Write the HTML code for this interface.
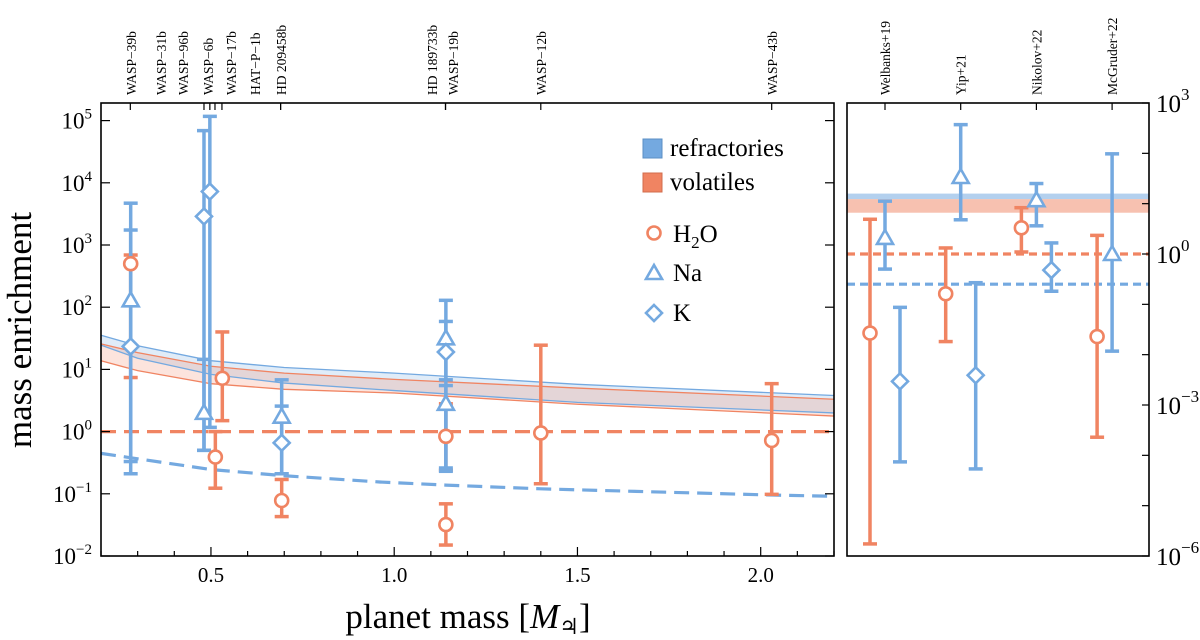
<!DOCTYPE html>
<html><head><meta charset="utf-8"><style>
html,body{margin:0;padding:0;background:#fff;}
svg{display:block;font-family:"Liberation Serif",serif;}
</style></head><body>
<svg id="chart" width="1200" height="640" viewBox="0 0 1200 640" xmlns="http://www.w3.org/2000/svg">
<g id="main"></g>
<g id="side"></g>
</svg>
<script>
// ---------- main panel data (values are enrichment, linear) ----------
const planetNames = ["WASP\u221239b","WASP\u221231b","WASP\u221296b","WASP\u22126b","WASP\u221217b","HAT\u2212P\u22121b","HD 209458b","HD 189733b","WASP\u221219b","WASP\u221212b","WASP\u221243b"];
const planetMasses = [0.28,0.481,0.497,0.511,0.53,0.69,0.69,1.14,1.14,1.40,2.03];
const planetLabelX = [131,161,183,208,231,255,281,432,453,541,772];
const planetLabelMass = [0.28,0.481,0.497,0.511,0.53,0.69,0.69,1.14,1.14,1.40,2.03];

const h2oMass = [0.281,0.512,0.531,0.693,1.141,1.141,1.40,2.03];
const h2oVal  = [500,0.39,7.2,0.078,0.84,0.032,0.95,0.72];
const h2oLo   = [7.4,0.123,1.5,0.043,0.24,0.015,0.145,0.098];
const h2oHi   = [690,1.0,40,0.17,2.8,0.069,24.5,5.9];

const naMass = [0.281,0.481,0.693,1.141,1.141];
const naVal  = [129,2.0,1.74,31.6,2.8];
const naLo   = [0.33,0.5,0.21,6.8,0.23];
const naHi   = [1740,14.5,6.8,129,5.5];

const kMass = [0.281,0.481,0.497,0.693,1.141];
const kVal  = [23.4,2880,7240,0.66,19];
const kLo   = [0.21,0.5,1.17,0.21,0.26];
const kHi   = [4700,69000,117000,2.57,59];

const bandMass = [0.2,0.3,0.5,0.7,1.0,1.5,2.2];
const refTopLog = [1.55,1.38,1.14,1.03,0.94,0.76,0.58];
const refBotLog = [1.39,1.18,0.92,0.78,0.66,0.47,0.30];
const volTopLog = [1.41,1.27,1.05,0.94,0.84,0.70,0.52];
const volBotLog = [1.14,0.98,0.77,0.68,0.62,0.44,0.25];
const refDashMass = [0.2,0.5,0.7,0.96,1.14,1.4,2.03,2.2];
const refDashLog  = [-0.35,-0.61,-0.71,-0.81,-0.86,-0.92,-1.02,-1.04];
const volDashLog = 0;

const xTicks = [0.5,1.0,1.5,2.0];
const xTickLabels = ["0.5","1.0","1.5","2.0"];
const yTicksMain = [-2,-1,0,1,2,3,4,5];

// ---------- literature panel data (log10 enrichment) ----------
const sources = ["Welbanks+19","Yip+21","Nikolov+22","McGruder+22"];
const litH2oC = [-1.57,-0.79,0.52,-1.64];
const litH2oLo = [-5.76,-1.74,0.04,-3.64];
const litH2oHi = [0.69,0.12,0.92,0.37];
const litNaC = [0.32,1.53,1.07,0.0];
const litNaLo = [-0.30,0.68,0.56,-1.93];
const litNaHi = [1.05,2.57,1.40,1.99];
const litKSrc = [0,1,2];
const litKC = [-2.53,-2.41,-0.32];
const litKLo = [-4.13,-4.27,-0.74];
const litKHi = [-1.06,-0.57,0.22];
const litRefBand = [1.09,1.20];
const litVolBand = [0.82,1.09];
const litVolLine = 0;
const litRefLine = -0.60;
const yTicksSide = [-6,-3,0,3];

const BLUE="#74a9e0", ORANGE="#f08462";
const NS="http://www.w3.org/2000/svg";
function mk(parent,tag,attrs,text){const e=document.createElementNS(NS,tag);for(const k in attrs)e.setAttribute(k,attrs[k]);if(text!==undefined)e.textContent=text;parent.appendChild(e);return e;}

// axes
const L=101,R=834,T=103,B=556;
const xS=m=>L+(m-0.2)/(2.2-0.2)*(R-L);
const yS=lg=>B-(lg+2)*62.2;
const yV=v=>yS(Math.log10(v));
const SL=847,SR=1149;
const sxS=i=>885+i*75.7;
const syS=lg=>T+(3-lg)*(B-T)/9;

const main=document.getElementById('main');
const side=document.getElementById('side');

// bands
function bandPath(top,bot){let d="";bandMass.forEach((m,i)=>{d+=(i?"L":"M")+xS(m)+","+yS(top[i]);});for(let i=bandMass.length-1;i>=0;i--)d+="L"+xS(bandMass[i])+","+yS(bot[i]);return d+"Z";}
function linePath(ms,ls){return ms.map((m,i)=>(i?"L":"M")+xS(m)+","+yS(ls[i])).join("");}
let e;
e=mk(main,'path',{d:bandPath(refTopLog,refBotLog),fill:BLUE,'fill-opacity':0.22,stroke:'none'});

e=mk(main,'path',{d:bandPath(volTopLog,volBotLog),fill:ORANGE,'fill-opacity':0.22,stroke:'none'});

[[refTopLog,BLUE],[refBotLog,BLUE],[volTopLog,ORANGE],[volBotLog,ORANGE]].forEach(([a,c])=>{
 e=mk(main,'path',{d:linePath(bandMass,a),fill:'none',stroke:c,'stroke-width':1.3});
 
});
e=mk(main,'line',{x1:L,x2:R,y1:yS(volDashLog),y2:yS(volDashLog),stroke:ORANGE,'stroke-width':3.2,'stroke-dasharray':'15,8'});

e=mk(main,'path',{d:linePath(refDashMass,refDashLog),fill:'none',stroke:BLUE,'stroke-width':3.2,'stroke-dasharray':'15,8'});


function errbar(g,x,y1,y2,c,name){
 e=mk(g,'line',{x1:x,x2:x,y1:y1,y2:y2,stroke:c,'stroke-width':3.5});
 
 [y1,y2].forEach(y=>{e=mk(g,'line',{x1:x-7,x2:x+7,y1:y,y2:y,stroke:c,'stroke-width':3.5});
 });
}
function marker(g,type,x,y,c,name){
 if(type==='o')e=mk(g,'circle',{cx:x,cy:y,r:6.5,fill:'#fff',stroke:c,'stroke-width':2.6});
 else if(type==='^')e=mk(g,'polygon',{points:`${x},${y-8} ${x+8},${y+6} ${x-8},${y+6}`,fill:'#fff',stroke:c,'stroke-width':2.6});
 else e=mk(g,'polygon',{points:`${x},${y-8} ${x+8},${y} ${x},${y+8} ${x-8},${y}`,fill:'#fff',stroke:c,'stroke-width':2.6});
 
}
h2oMass.forEach((m,i)=>errbar(main,xS(m),yV(h2oLo[i]),yV(h2oHi[i]),ORANGE,'h2o'));
naMass.forEach((m,i)=>errbar(main,xS(m),yV(naLo[i]),yV(naHi[i]),BLUE,'na'));
kMass.forEach((m,i)=>errbar(main,xS(m),yV(kLo[i]),yV(kHi[i]),BLUE,'k'));
h2oMass.forEach((m,i)=>marker(main,'o',xS(m),yV(h2oVal[i]),ORANGE,'h2o'));
naMass.forEach((m,i)=>marker(main,'^',xS(m),yV(naVal[i]),BLUE,'na'));
kMass.forEach((m,i)=>marker(main,'d',xS(m),yV(kVal[i]),BLUE,'k'));

// frame
e=mk(main,'rect',{x:L,y:T,width:R-L,height:B-T,fill:'none',stroke:'#000','stroke-width':1.6});

// x ticks
for(let k=2;k<=22;k++){const m=k/10;const maj=(k%5===0);const x=xS(m);
 e=mk(main,'line',{x1:x,x2:x,y1:B,y2:B-(maj?9:5),stroke:'#000','stroke-width':1.2});
 }
xTicks.forEach((m,i)=>{e=mk(main,'text',{x:xS(m),y:582,'text-anchor':'middle','font-size':21},xTickLabels[i]);
 });
// y ticks
yTicksMain.forEach(lg=>{const y=yS(lg);
 [[L,L+9],[R,R-9]].forEach(([a,b])=>{e=mk(main,'line',{x1:a,x2:b,y1:y,y2:y,stroke:'#000','stroke-width':1.2});
 });
 const t=mk(main,'text',{x:92,y:y+8,'text-anchor':'end','font-size':23});
 
 mk(t,'tspan',{},'10');mk(t,'tspan',{dy:-10,'font-size':15},lg<0?'\u2212'+(-lg):String(lg));
});
// top planet ticks and labels
planetLabelMass.forEach((m,i)=>{const x=xS(m);
 e=mk(main,'line',{x1:x,x2:x,y1:T,y2:T+7,stroke:'#000','stroke-width':1.2});
 
 e=mk(main,'text',{x:0,y:0,transform:`translate(${planetLabelX[i]+5},95) rotate(-90)`,'font-size':13.5},planetNames[i]);
 
});
// axis titles
e=mk(main,'text',{x:468,y:628,'text-anchor':'middle','font-size':35},'planet mass [');

e.innerHTML='planet mass [<tspan font-style="italic">M</tspan><tspan font-size="22" dy="6">\u2643</tspan><tspan dy="-6">]</tspan>';
e=mk(main,'text',{x:0,y:0,transform:'translate(31,330) rotate(-90)','text-anchor':'middle','font-size':35},'mass enrichment');


// legend
const lg=mk(main,'g',{});
e=mk(lg,'rect',{x:643,y:139,width:19,height:19,fill:BLUE,stroke:'#5b8fc4','stroke-width':1});

e=mk(lg,'text',{x:670,y:156,'font-size':25},'refractories');
e=mk(lg,'rect',{x:643,y:173,width:19,height:19,fill:ORANGE,stroke:'#d26c4c','stroke-width':1});

e=mk(lg,'text',{x:670,y:190,'font-size':25},'volatiles');
marker(lg,'o',654,233,ORANGE,'legend-h2o');
e=mk(lg,'text',{x:673,y:242,'font-size':25});
e.innerHTML='H<tspan font-size="17" dy="6">2</tspan><tspan dy="-6">O</tspan>';
marker(lg,'^',654,273,BLUE,'legend-na');
e=mk(lg,'text',{x:673,y:281,'font-size':25},'Na');
marker(lg,'d',654,313,BLUE,'legend-k');
e=mk(lg,'text',{x:673,y:321,'font-size':25},'K');

// ---------- side panel ----------
e=mk(side,'rect',{x:SL,y:syS(litRefBand[1]),width:SR-SL,height:syS(litRefBand[0])-syS(litRefBand[1]),fill:BLUE,'fill-opacity':0.55});

e=mk(side,'rect',{x:SL,y:syS(litVolBand[1]),width:SR-SL,height:syS(litVolBand[0])-syS(litVolBand[1]),fill:ORANGE,'fill-opacity':0.5});

e=mk(side,'line',{x1:SL,x2:SR,y1:syS(litVolLine),y2:syS(litVolLine),stroke:ORANGE,'stroke-width':3.2,'stroke-dasharray':'8,5'});

e=mk(side,'line',{x1:SL,x2:SR,y1:syS(litRefLine),y2:syS(litRefLine),stroke:BLUE,'stroke-width':3.2,'stroke-dasharray':'8,5'});

sources.forEach((s,i)=>errbar(side,sxS(i)-15,syS(litH2oLo[i]),syS(litH2oHi[i]),ORANGE,'lit-h2o'));
sources.forEach((s,i)=>errbar(side,sxS(i),syS(litNaLo[i]),syS(litNaHi[i]),BLUE,'lit-na'));
litKSrc.forEach((si,i)=>errbar(side,sxS(si)+15,syS(litKLo[i]),syS(litKHi[i]),BLUE,'lit-k'));
sources.forEach((s,i)=>marker(side,'o',sxS(i)-15,syS(litH2oC[i]),ORANGE,'lit-h2o'));
sources.forEach((s,i)=>marker(side,'^',sxS(i),syS(litNaC[i]),BLUE,'lit-na'));
litKSrc.forEach((si,i)=>marker(side,'d',sxS(si)+15,syS(litKC[i]),BLUE,'lit-k'));
e=mk(side,'rect',{x:SL,y:T,width:SR-SL,height:B-T,fill:'none',stroke:'#000','stroke-width':1.6});

sources.forEach((s,i)=>{const x=sxS(i);
 e=mk(side,'line',{x1:x,x2:x,y1:T,y2:T+7,stroke:'#000','stroke-width':1.2});
 
 e=mk(side,'text',{x:0,y:0,transform:`translate(${x+5},95) rotate(-90)`,'font-size':13.5},s);
 
});
for(let d=-6;d<=3;d++){const y=syS(d);
 e=mk(side,'line',{x1:SR,x2:SR-7,y1:y,y2:y,stroke:'#000','stroke-width':1.2});
 }
yTicksSide.forEach(d=>{const t=mk(side,'text',{x:1156,y:syS(d)+9,'font-size':25});
 
 mk(t,'tspan',{},'10');mk(t,'tspan',{dy:-12,'font-size':17},d<0?'\u2212'+(-d):String(d));});
</script>
</body></html>
